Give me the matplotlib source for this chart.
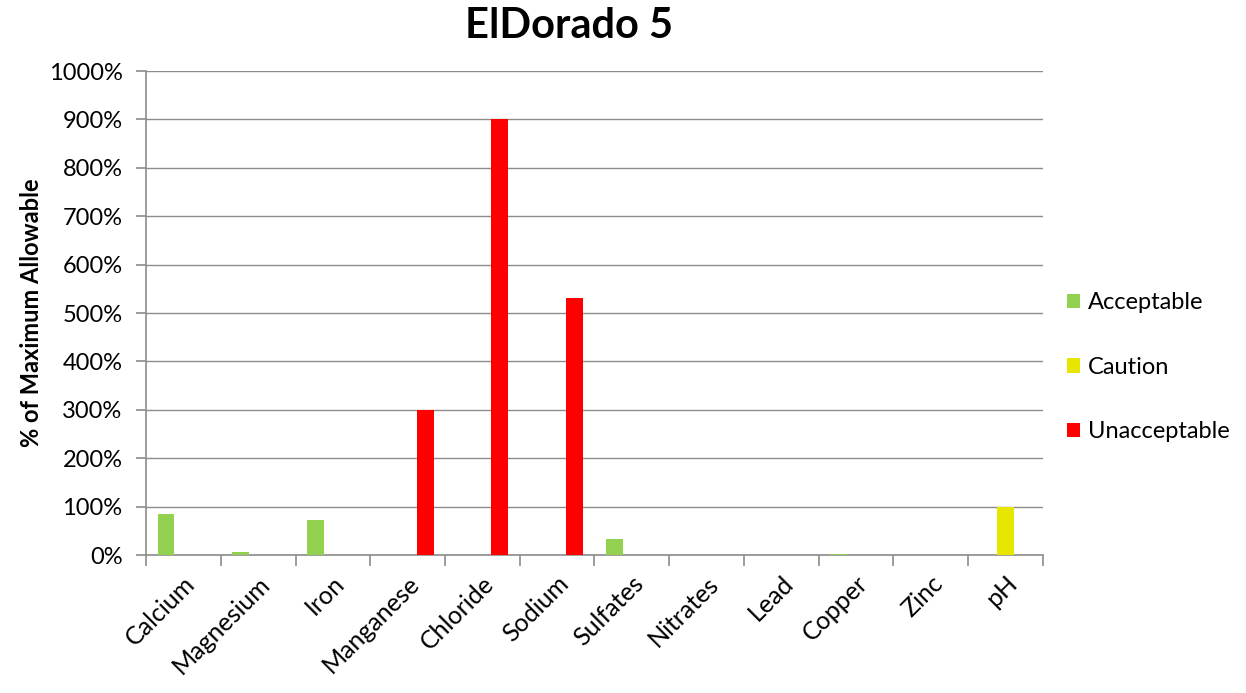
import numpy as np
import matplotlib.pyplot as plt
from matplotlib.ticker import FixedLocator, PercentFormatter

plt.rcParams['font.family'] = ['Lato', 'DejaVu Sans']

# --- data ---
categories = ['Calcium', 'Magnesium', 'Iron', 'Manganese', 'Chloride', 'Sodium',
              'Sulfates', 'Nitrates', 'Lead', 'Copper', 'Zinc', 'pH']
acceptable = [85, 6, 73, 0, 0, 0, 34, 0, 0, 2, 0, 0]
caution = [0, 0, 0, 0, 0, 0, 0, 0, 0, 0, 0, 100]
unacceptable = [0, 0, 0, 300, 900, 532, 0, 0, 0, 0, 0, 0]
series_names = ['Acceptable', 'Caution', 'Unacceptable']
series_colors = ['#92D050', '#E6E600', '#FF0000']

fig = plt.figure(figsize=(12.46, 6.93), dpi=100)
ax = fig.add_axes([0.1172, 0.199, 0.7198, 0.6985])

x = np.arange(len(categories))
w = 0.227
offsets = [-0.233, 0.0, 0.233]
for vals, name, col, off in zip([acceptable, caution, unacceptable], series_names, series_colors, offsets):
    ax.bar(x + off, vals, width=w, color=col, label=name, zorder=3)

ax.set_xlim(-0.5, len(categories) - 0.5)
ax.set_ylim(0, 1000)
ax.set_yticks(np.arange(0, 1001, 100))
ax.yaxis.set_major_formatter(PercentFormatter(decimals=0))
ax.grid(axis='y', color='#8c8c8c', linewidth=1, zorder=0)

for s in ['top', 'right']:
    ax.spines[s].set_visible(False)
for s in ['left', 'bottom']:
    ax.spines[s].set_color('#8c8c8c')
    ax.spines[s].set_linewidth(1.2)

ax.set_xticks(x)
ax.set_xticklabels(categories, rotation=45, ha='right', rotation_mode='anchor', fontsize=18)
ax.tick_params(axis='x', length=0, pad=12)
ax.xaxis.set_minor_locator(FixedLocator(np.arange(-0.5, len(categories), 1.0)))
ax.tick_params(axis='x', which='minor', length=8, color='#8c8c8c', width=1.2)
ax.tick_params(axis='y', length=7, color='#8c8c8c', width=1.2, labelsize=17, pad=10)

ax.set_ylabel('% of Maximum Allowable', fontsize=17, fontweight='bold', labelpad=4)
fig.text(0.4567, 0.962, 'ElDorado 5', ha='center', va='center', fontsize=30, fontweight='bold')

leg = ax.legend(loc='center left', bbox_to_anchor=(1.003, 0.388), frameon=False, fontsize=17,
                handlelength=0.55, handleheight=0.55, handletextpad=0.35, labelspacing=1.85)

fig.savefig('out.png', dpi=100)
